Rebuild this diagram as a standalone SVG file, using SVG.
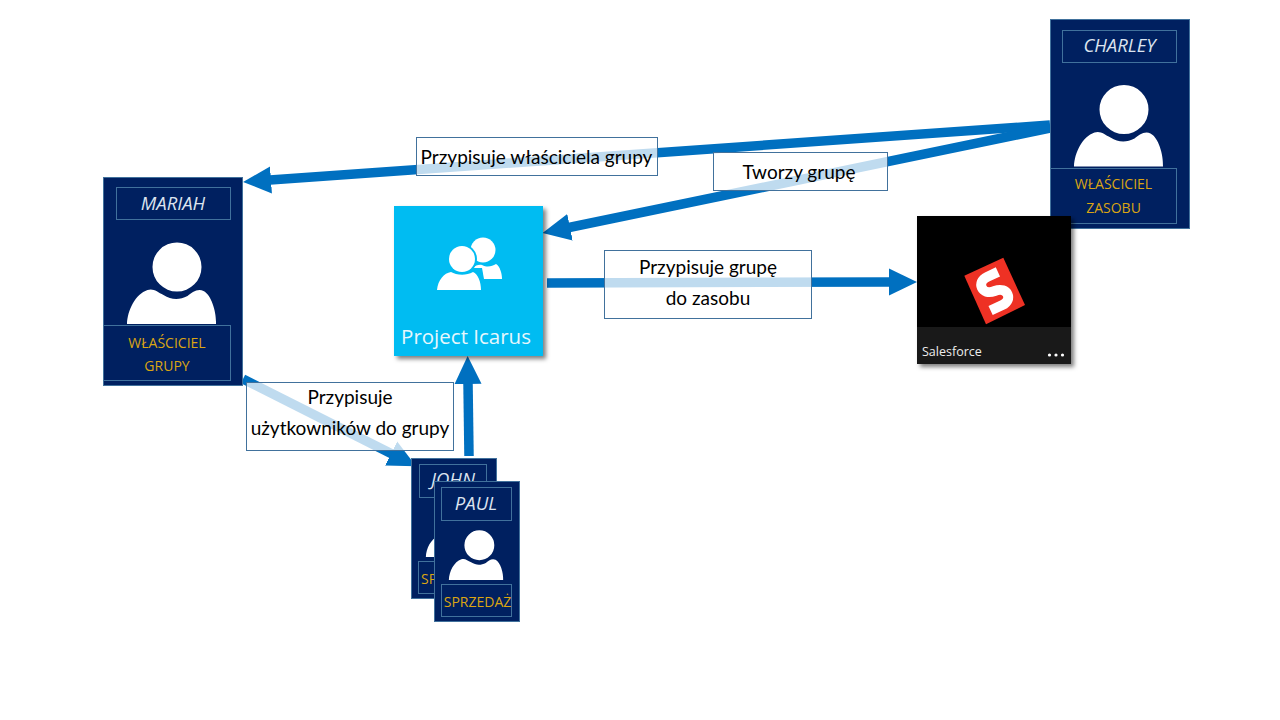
<svg xmlns="http://www.w3.org/2000/svg" width="1280" height="720" viewBox="0 0 1280 720">
<style>
.card{fill:#002060;stroke:#41719C;stroke-width:1}
.inner{fill:none;stroke:#41719C;stroke-width:1}
.name{font-family:"Open Sans","Noto Sans",sans-serif;font-style:italic;font-size:18.500px;fill:#DCE4EF;text-anchor:middle}
.role{font-family:"Open Sans","Noto Sans",sans-serif;font-size:14px;fill:#DBA512;text-anchor:middle}
.conn{fill:none;stroke:#0070C0;stroke-width:9.500}
.label rect{fill:#fff;fill-opacity:.75;stroke:#41719C;stroke-width:1}
.label text{font-family:Lato,"Open Sans",sans-serif;font-size:19px;fill:#000;text-anchor:middle}
</style>
<defs>
<marker id="head" markerUnits="userSpaceOnUse" markerWidth="30" markerHeight="30" refX="1" refY="15" orient="auto" viewBox="0 0 30 30">
<polygon points="0,1.500 28,15 0,28.500" fill="#0070C0"/>
</marker>
<filter id="shadow" x="-10%" y="-10%" width="125%" height="125%">
<feDropShadow dx="3" dy="3" stdDeviation="2" flood-color="#000" flood-opacity=".5"/>
</filter>
<path id="person" fill="#fff" d="M-44.500,0C-44,-14 -36,-30 -24,-34C-18,-36 -14,-32 -8,-29C0,-24 8,-24 16,-28C20,-31 26,-36 32,-33C40,-29 45,-12 44.500,0ZM30,-57a24.500,24.500 0 1 1 -49,0a24.500,24.500 0 1 1 49,0Z"/>
</defs>
<rect width="1280" height="720" fill="#fff"/>
<g id="connectors">
<line class="conn" x1="1050" y1="125" x2="270" y2="180" marker-end="url(#head)"/>
<line class="conn" x1="1050" y1="128" x2="569" y2="227.500" marker-end="url(#head)"/>
<line class="conn" x1="547" y1="283" x2="890" y2="282" marker-end="url(#head)"/>
<line class="conn" x1="469" y1="456" x2="468" y2="383" marker-end="url(#head)"/>
<line class="conn" x1="243" y1="379" x2="392" y2="454" marker-end="url(#head)"/>
</g>
<g id="node-charley">
<rect class="card" x="1050.500" y="19.500" width="139" height="209"/>
<rect class="inner" x="1062.500" y="30.500" width="114" height="32"/>
<text class="name" x="1119.500" y="52">CHARLEY</text>
<use href="#person" transform="translate(1118.500,166.500)"/>
<rect class="inner" x="1050.500" y="168.500" width="126" height="55"/>
<text class="role" x="1113.500" y="189">WŁAŚCICIEL</text>
<text class="role" x="1113.500" y="213">ZASOBU</text>
</g>
<g id="node-mariah">
<rect class="card" x="103.500" y="177.500" width="139" height="208"/>
<rect class="inner" x="116.500" y="187.500" width="114" height="32"/>
<text class="name" x="173" y="210">MARIAH</text>
<use href="#person" transform="translate(171.500,324)"/>
<rect class="inner" x="103.500" y="325.500" width="127" height="55"/>
<text class="role" x="167" y="348">WŁAŚCICIEL</text>
<text class="role" x="167" y="371">GRUPY</text>
</g>
<g id="node-icarus">
<rect x="394" y="206" width="149" height="150" fill="#00BCF2" filter="url(#shadow)"/>
<g fill="#fff">
<circle cx="483" cy="250" r="12.500"/>
<path d="M468,279C470,268 476,264 482,265C488,268 492,266 496,264C500,266 502,274 502,279Z"/>
<circle cx="462" cy="259" r="15" fill="#00BCF2"/>
<path d="M433,294L478,294L486,290L482,268L440,268Z" fill="#00BCF2"/>
<circle cx="462" cy="259" r="13"/>
<path d="M437,290C438,280 444,273 451,272C456,275 466,276 473,272C478,274 481,282 481,290Z"/>
</g>
<text x="466" y="344" font-family="'Open Sans','Noto Sans',sans-serif" font-size="20.500" fill="#E6F7FD" text-anchor="middle">Project Icarus</text>
</g>
<g id="node-salesforce">
<rect x="917" y="216" width="154" height="148" fill="#000" filter="url(#shadow)"/>
<rect x="917" y="327" width="154" height="37" fill="#191919"/>
<polygon points="964.300,275.700 1003.300,257.700 1025,305 986,324.300" fill="#EE3124"/>
<g transform="translate(994.700,291) rotate(-25)">
<path d="M11,-16H-1C-13,-16 -14,-1 0,0C14,1 13,16 1,16H-12" fill="none" stroke="#fff" stroke-width="10"/>
</g>
<text x="922" y="356" font-family="'Open Sans','Noto Sans',sans-serif" font-size="12.500" fill="#EDEDED">Salesforce</text>
<g fill="#fff"><circle cx="1049.500" cy="355" r="1.600"/><circle cx="1056" cy="355" r="1.600"/><circle cx="1062.500" cy="355" r="1.600"/></g>
</g>
<g id="node-john">
<rect class="card" x="411.500" y="458.500" width="85" height="140"/>
<rect class="inner" x="419.500" y="464.500" width="67" height="33"/>
<text class="name" x="453" y="486">JOHN</text>
<use href="#person" transform="translate(453,557) scale(.61)"/>
<rect class="inner" x="418.500" y="561.500" width="69" height="32"/>
<text class="role" x="421" y="584" style="text-anchor:start">SPRZEDAŻ</text>
</g>
<g id="node-paul">
<rect class="card" x="434.500" y="481.500" width="85" height="140"/>
<rect class="inner" x="441.500" y="487.500" width="70" height="33"/>
<text class="name" x="476" y="510">PAUL</text>
<use href="#person" transform="translate(476,580) scale(.61)"/>
<rect class="inner" x="441.500" y="584.500" width="70" height="32"/>
<text class="role" x="477.500" y="607">SPRZEDAŻ</text>
</g>
<g id="label-wlasciciel" class="label">
<rect x="416.500" y="137.500" width="241" height="38"/>
<text x="536.500" y="164">Przypisuje właściciela grupy</text>
</g>
<g id="label-tworzy" class="label">
<rect x="713.500" y="152.500" width="174" height="38"/>
<text x="799" y="179">Tworzy grupę</text>
</g>
<g id="label-zasob" class="label">
<rect x="604.500" y="250.500" width="207" height="68"/>
<text x="708" y="274">Przypisuje grupę</text>
<text x="708" y="305">do zasobu</text>
</g>
<g id="label-uzytkownicy" class="label">
<rect x="246.500" y="382.500" width="207" height="68"/>
<text x="350" y="404">Przypisuje</text>
<text x="350" y="435">użytkowników do grupy</text>
</g>
</svg>
